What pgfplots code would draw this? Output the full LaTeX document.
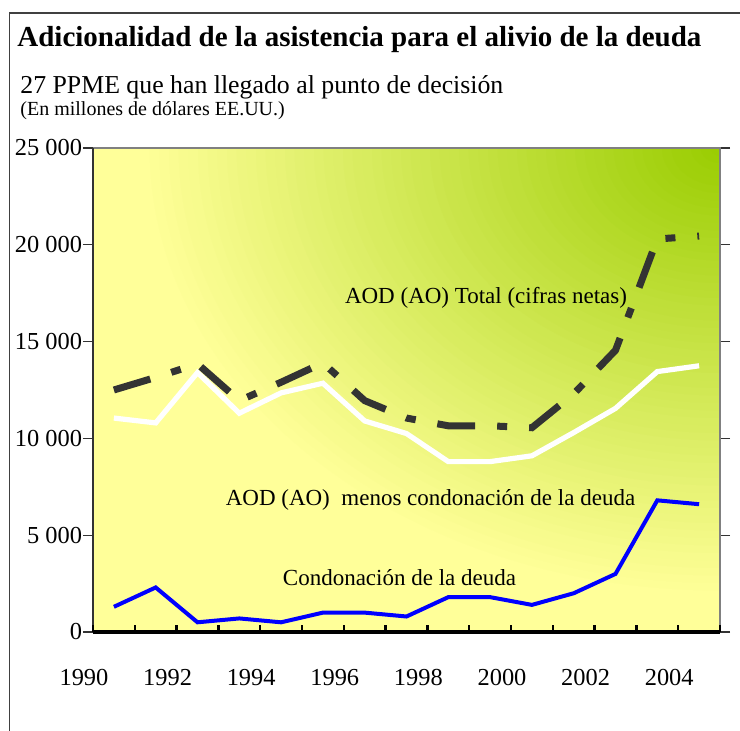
\documentclass[border=0pt]{standalone}
\usepackage{fontspec}
\setmainfont{Liberation Serif}
\usepackage{pgfplots}
\pgfplotsset{compat=1.18}
\definecolor{aoyellow}{RGB}{255,255,153}
\definecolor{aogreen}{RGB}{153,204,0}
\definecolor{aodark}{RGB}{51,51,51}
\begin{document}
\begin{tikzpicture}[x=1pt,y=1pt]
\useasboundingbox (0,0) rectangle (370,365.5);
\fill[aoyellow] (46.5,49.5) rectangle (360,291.5);
\begin{scope}
\clip (46.5,49.5) rectangle (360,291.5);
\foreach \i in {60,59,...,1}{%
  \pgfmathtruncatemacro\p{round(\i*5/3)}%
  \pgfmathsetmacro\rx{\i*4.8333}%
  \pgfmathsetmacro\ry{\i*3.75}%
  \fill[aoyellow!\p!aogreen] (360,291.5) ellipse [x radius=\rx, y radius=\ry];
}
\end{scope}
\draw[black!75, line width=0.8pt] (4.75,0) -- (4.75,359) -- (372,359);
\node[anchor=base west, inner sep=0, font=\bfseries\fontsize{14.5}{17}\selectfont] at (8.5,342) {Adicionalidad de la asistencia para el alivio de la deuda};
\node[anchor=base west, inner sep=0, font=\fontsize{12.9}{15}\selectfont] at (10,318.5) {27 PPME que han llegado al punto de decisión};
\node[anchor=base west, inner sep=0, font=\fontsize{10}{12}\selectfont] at (10,307.5) {(En millones de dólares EE.UU.)};
\begin{axis}[
  at={(46.5pt,49.5pt)}, anchor=south west,
  scale only axis, width=313.5pt, height=242pt,
  xmin=-0.5, xmax=14.5, ymin=0, ymax=25000,
  axis line style={draw=none},
  clip=false,
  scaled y ticks=false,
  ytick={0,5000,10000,15000,20000,25000},
  yticklabels={0,5 000,10 000,15 000,20 000,25 000},
  tick align=outside,
  major tick length=5pt,
  ytick style={draw=black!80, line width=0.6pt},
  xtick={-0.5,1.5,3.5,5.5,7.5,9.5,11.5,13.5},
  xticklabels={1990,1992,1994,1996,1998,2000,2002,2004},
  xtick style={draw=none},
  xticklabel style={yshift=-10pt, xshift=-4.5pt},
  tick label style={font=\fontsize{12.2}{14}\selectfont},
  yticklabel style={inner sep=0.3pt},
]
\addplot[blue, line width=2pt, line join=miter] coordinates {
(0,1300)(1,2300)(2,500)(3,700)(4,500)(5,1000)(6,1000)(7,800)(8,1800)(9,1800)(10,1400)(11,2000)(12,3000)(13,6800)(14,6600)};
\addplot[white, line width=2.6pt, line join=miter] coordinates {
(0,11050)(1,10800)(2,13400)(3,11300)(4,12350)(5,12850)(6,10900)(7,10250)(8,8800)(9,8800)(10,9100)(11,10300)(12,11550)(13,13450)(14,13750)};
\addplot[aodark, line width=3.5pt, dash pattern=on 19pt off 11pt on 5pt off 11pt] coordinates {
(0,12500)(1,13150)(2,13850)(3,11950)(4,12900)(5,13900)(6,11950)(7,11050)(8,10650)(9,10650)(10,10550)(11,12300)(12,14550)(13,20300)(14,20450)};
\draw[gray, line width=0.8pt] (axis cs:-0.5,25000) -- (axis cs:14.5,25000) -- (axis cs:14.5,0);
\draw[black!80, line width=0.7pt] (axis cs:-0.5,0) -- (axis cs:-0.5,25000);
\draw[black, line width=1.6pt] (axis cs:-0.5,0) -- (axis cs:14.5,0);
\pgfplotsinvokeforeach{-0.5,0.5,...,14.5}{\draw[black, line width=1.2pt] (axis cs:#1,0) -- ++(0pt,3.5pt);}
\end{axis}
\node[font=\fontsize{11.5}{13}\selectfont] at (243,216.5) {AOD (AO) Total (cifras netas)};
\node[font=\fontsize{11.5}{13}\selectfont] at (215.25,115.5) {AOD (AO)\ \ menos condonación de la deuda};
\node[font=\fontsize{11.5}{13}\selectfont] at (199.75,76.5) {Condonación de la deuda};
\end{tikzpicture}
\end{document}
